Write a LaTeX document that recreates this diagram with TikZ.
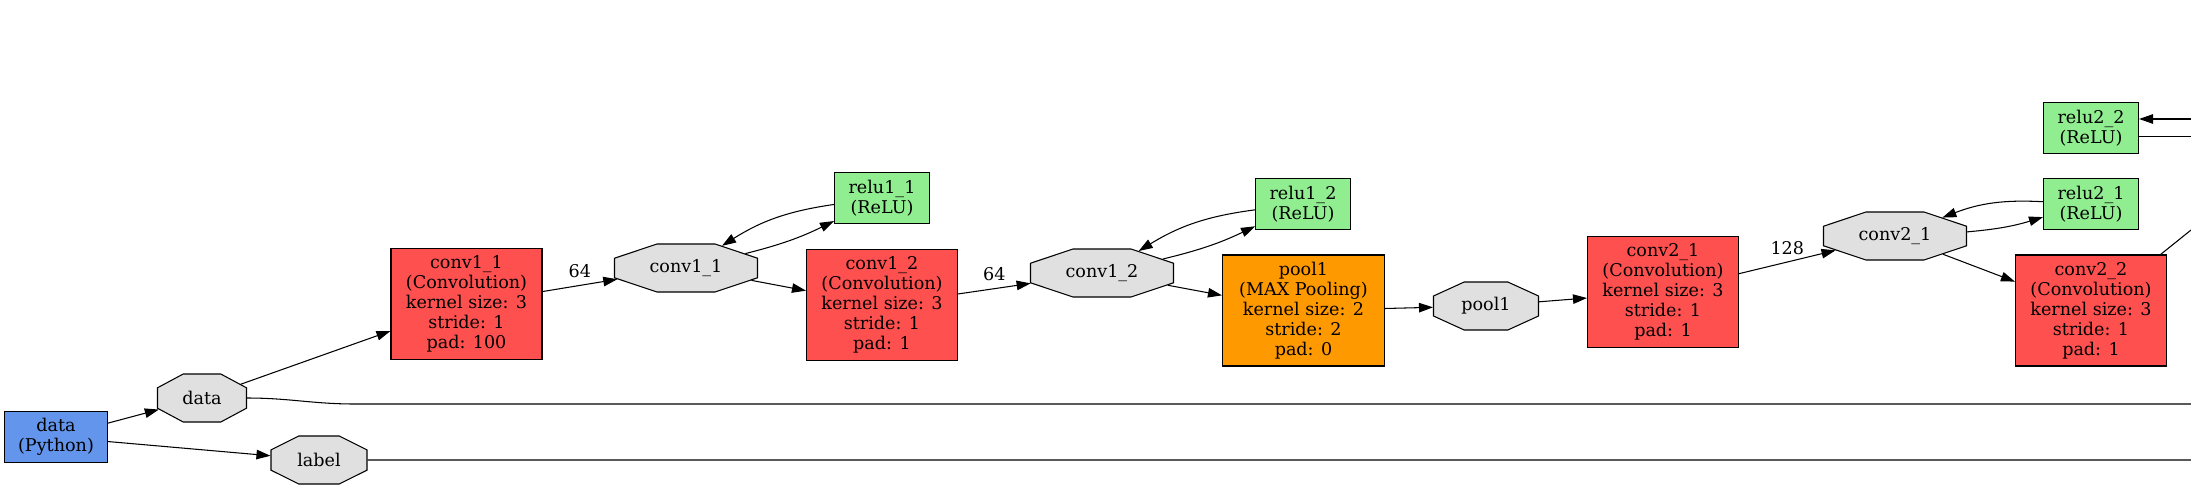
\documentclass[tikz,border=0pt]{standalone}
\usepackage{fontspec}
\setmainfont{DejaVu Serif}
\usetikzlibrary{arrows.meta,shapes.misc}
\definecolor{convred}{HTML}{FF5050}
\definecolor{poolorange}{HTML}{FF9900}
\definecolor{relugreen}{HTML}{90EE90}
\definecolor{blobgray}{HTML}{E0E0E0}
\definecolor{pyblue}{HTML}{6495ED}

\begin{document}
\begin{tikzpicture}[y=-1cm, align=center, font=\fontsize{10}{11.4}\selectfont,
    layerbox/.style={rectangle, draw=black, line width=0.6pt, inner sep=0pt,
        minimum width=3.02cm, minimum height=2.22cm},
    relu/.style={layerbox, fill=relugreen, minimum width=1.90cm, minimum height=1.02cm},
    blob/.style 2 args={chamfered rectangle, draw=black, line width=0.6pt, fill=blobgray, inner sep=0pt,
        chamfered rectangle ysep=0.28cm, chamfered rectangle angle=#2,
        minimum width=#1, minimum height=0.96cm},
    flow/.style={-{Triangle[length=0.28cm,width=0.19cm]}, line width=0.6pt},
    num/.style={above, inner sep=4pt}]
  \useasboundingbox (0,0) rectangle (43.82,9.78);

  % input
  \node [layerbox, fill=pyblue, minimum width=2.06cm, minimum height=1.02cm] (datapy) at (1.12,8.74) {data\\(Python)};
  \node [blob={1.78cm}{61.8}] (data) at (4.04,7.96) {data};
  \node [blob={1.92cm}{63.5}] (label) at (6.38,9.20) {label};

  % block 1
  \node [layerbox, fill=convred] (conv11) at (9.33,6.08) {conv1\_1\\(Convolution)\\kernel size: 3\\stride: 1\\pad: 100};
  \node [blob={2.86cm}{71.5}] (conv11b) at (13.72,5.36) {conv1\_1};
  \node [relu] (relu11) at (17.64,3.96) {relu1\_1\\(ReLU)};
  \node [layerbox, fill=convred] (conv12) at (17.64,6.10) {conv1\_2\\(Convolution)\\kernel size: 3\\stride: 1\\pad: 1};
  \node [blob={2.86cm}{71.5}] (conv12b) at (22.04,5.46) {conv1\_2};
  \node [relu] (relu12) at (26.06,4.08) {relu1\_2\\(ReLU)};
  \node [layerbox, fill=poolorange, minimum width=3.24cm] (pool1) at (26.07,6.21) {pool1\\(MAX Pooling)\\kernel size: 2\\stride: 2\\pad: 0};
  \node [blob={2.10cm}{65.5}] (pool1b) at (29.72,6.12) {pool1};

  % block 2
  \node [layerbox, fill=convred] (conv21) at (33.26,5.84) {conv2\_1\\(Convolution)\\kernel size: 3\\stride: 1\\pad: 1};
  \node [blob={2.86cm}{71.5}] (conv21b) at (37.90,4.72) {conv2\_1};
  \node [relu] (relu21) at (41.82,4.08) {relu2\_1\\(ReLU)};
  \node [relu] (relu22) at (41.82,2.56) {relu2\_2\\(ReLU)};
  \node [layerbox, fill=convred] (conv22) at (41.82,6.21) {conv2\_2\\(Convolution)\\kernel size: 3\\stride: 1\\pad: 1};

  % ends leaving the picture
  \coordinate (dataend) at (43.82,8.08);
  \coordinate (labelend) at (43.82,9.20);
  \coordinate (conv22end) at (43.82,4.60);
  \coordinate (relu22in) at (43.82,2.38);
  \coordinate (relu22out) at (43.82,2.73);

  \draw [flow] (datapy) -- (data);
  \draw [flow] (datapy) -- (label);
  \draw [flow] (data) -- (conv11);
  \draw [line width=0.6pt] (data.east) to [out=0,in=180] (7.1,8.08) -- (dataend);
  \draw [line width=0.6pt] (label) -- (labelend);
  \draw [flow] (conv11) -- node [num] {64} (conv11b);
  \draw [flow] (conv11b) to [bend right=6] (relu11);
  \draw [flow] (relu11) to [bend right=12] (conv11b);
  \draw [flow] (conv11b) -- (conv12);
  \draw [flow] (conv12) -- node [num] {64} (conv12b);
  \draw [flow] (conv12b) to [bend right=6] (relu12);
  \draw [flow] (relu12) to [bend right=12] (conv12b);
  \draw [flow] (conv12b) -- (pool1);
  \draw [flow] (pool1) -- (pool1b);
  \draw [flow] (pool1b) -- (conv21);
  \draw [flow] (conv21) -- node [num] {128} (conv21b);
  \draw [flow] (conv21b) to [bend right=6] (relu21);
  \draw [flow] (relu21) to [bend right=12] (conv21b);
  \draw [flow] (conv21b) -- (conv22);
  \draw [line width=0.6pt] (conv22) -- (conv22end);
  \draw [flow] (relu22in) -- (relu22in -| relu22.east);
  \draw [line width=0.6pt] (relu22out -| relu22.east) -- (relu22out);
\end{tikzpicture}
\end{document}
